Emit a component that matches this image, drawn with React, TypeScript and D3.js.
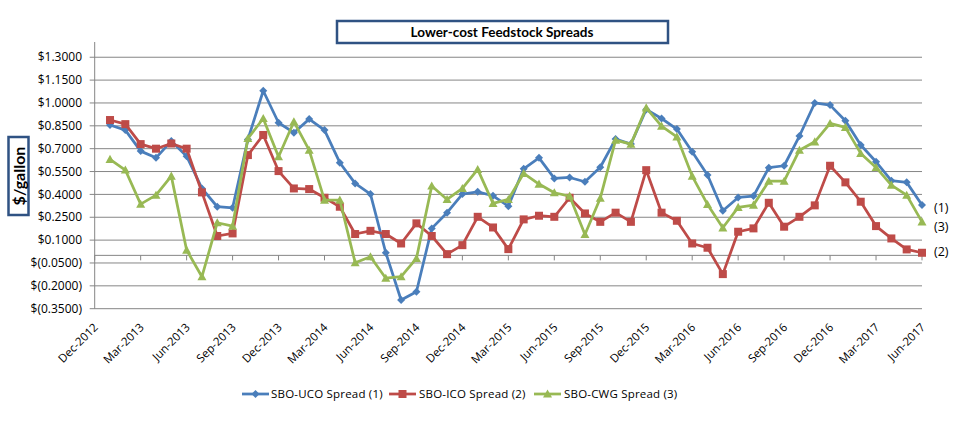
import React from "react";
import * as d3 from "d3";

// Months from Dec-2012 (index 0) to Jun-2017 (index 54); data starts Jan-2013 (index 1)
const tickLabels = [
  "Dec-2012", "Mar-2013", "Jun-2013", "Sep-2013", "Dec-2013", "Mar-2014", "Jun-2014",
  "Sep-2014", "Dec-2014", "Mar-2015", "Jun-2015", "Sep-2015", "Dec-2015", "Mar-2016",
  "Jun-2016", "Sep-2016", "Dec-2016", "Mar-2017", "Jun-2017",
];

const yTicks = [-0.35, -0.2, -0.05, 0.1, 0.25, 0.4, 0.55, 0.7, 0.85, 1.0, 1.15, 1.3];

const ucoSpread = [
  0.855, 0.822, 0.684, 0.64, 0.75, 0.651, 0.439, 0.319, 0.312, 0.76, 1.08, 0.87,
  0.805, 0.894, 0.822, 0.608, 0.472, 0.402, 0.017, -0.293, -0.239, 0.177, 0.28, 0.402,
  0.417, 0.391, 0.323, 0.568, 0.64, 0.505, 0.511, 0.483, 0.578, 0.763, 0.73, 0.957,
  0.898, 0.829, 0.68, 0.527, 0.293, 0.38, 0.389, 0.575, 0.588, 0.783, 1.0, 0.986,
  0.883, 0.724, 0.614, 0.49, 0.479, 0.33,
];

const icoSpread = [
  0.888, 0.861, 0.73, 0.7, 0.734, 0.7, 0.413, 0.127, 0.144, 0.658, 0.79, 0.553,
  0.439, 0.435, 0.378, 0.319, 0.14, 0.161, 0.14, 0.078, 0.21, 0.127, 0.008, 0.067,
  0.253, 0.183, 0.041, 0.236, 0.26, 0.253, 0.378, 0.275, 0.22, 0.28, 0.22, 0.559,
  0.28, 0.227, 0.078, 0.05, -0.123, 0.155, 0.177, 0.345, 0.188, 0.253, 0.328, 0.588,
  0.479, 0.352, 0.192, 0.111, 0.039, 0.017,
];

const cwgSpread = [
  0.63, 0.56, 0.336, 0.395, 0.52, 0.035, -0.14, 0.214, 0.192, 0.767, 0.898, 0.647,
  0.877, 0.69, 0.363, 0.363, -0.048, -0.009, -0.15, -0.14, -0.02, 0.455, 0.367, 0.439,
  0.564, 0.341, 0.367, 0.538, 0.468, 0.411, 0.389, 0.137, 0.375, 0.756, 0.73, 0.968,
  0.848, 0.778, 0.52, 0.334, 0.181, 0.315, 0.33, 0.487, 0.487, 0.69, 0.745, 0.866,
  0.84, 0.669, 0.577, 0.461, 0.395, 0.22,
];

const seriesNames = ["SBO-UCO Spread (1)", "SBO-ICO Spread (2)", "SBO-CWG Spread (3)"];
const endLabels = ["(1)", "(2)", "(3)"];

const FONT = "'Open Sans', sans-serif";
const TITLE_FONT = "Lato, 'Open Sans', sans-serif";
const COLORS = ["#4a7ebb", "#be4b48", "#98b954"];

const fmt = (v: number) => {
  const s = Math.abs(v).toFixed(4);
  return v < -1e-9 ? `$(${s})` : `$${s}`;
};

function Marker({ kind, x, y, color }: { kind: number; x: number; y: number; color: string }) {
  if (kind === 0) {
    const r = 4;
    return <path d={`M${x},${y - r}L${x + r},${y}L${x},${y + r}L${x - r},${y}Z`} fill={color} />;
  }
  if (kind === 1) {
    const r = 4;
    return <rect x={x - r} y={y - r} width={2 * r} height={2 * r} fill={color} />;
  }
  const r = 4.5;
  return <path d={`M${x},${y - r}L${x + r},${y + r * 0.8}L${x - r},${y + r * 0.8}Z`} fill={color} />;
}

export default function App() {
  const W = 970, H = 423;
  const x0 = 94.7, x1 = 922;
  const x = d3.scaleLinear().domain([0, 54]).range([x0, x1]);
  const y = d3.scaleLinear().domain([-0.35, 1.4]).range([308.7, 42]);

  const allSeries = [ucoSpread, icoSpread, cwgSpread];
  const line = d3
    .line<number>()
    .x((_, i) => x(i + 1))
    .y((d) => y(d));

  const tickIdx = tickLabels.map((_, i) => i * 3);

  const legendItems = [
    { lx: 242, tx: 271 },
    { lx: 389, tx: 419 },
    { lx: 534, tx: 564 },
  ];

  const endLabelY = [208, 252, 227];

  return (
    <svg
      width={W}
      height={H}
      style={{ position: "absolute", left: 0, top: 0, background: "#fff" }}
      fontFamily={FONT}
    >
      {/* gridlines */}
      {yTicks.map((t) => (
        <line key={t} x1={x0 - 5} x2={x1} y1={y(t)} y2={y(t)} stroke="#868686" strokeWidth={1} />
      ))}
      {/* y axis */}
      <line x1={x0} x2={x0} y1={y(1.4)} y2={y(-0.35)} stroke="#868686" strokeWidth={1} />
      {/* x axis at 0 */}
      <line x1={x0} x2={x1} y1={y(0)} y2={y(0)} stroke="#868686" strokeWidth={1} />
      {tickIdx.map((i) => (
        <line key={i} x1={x(i)} x2={x(i)} y1={y(0)} y2={y(0) + 5} stroke="#868686" strokeWidth={1} />
      ))}

      {/* y tick labels */}
      {yTicks.map((t) => (
        <text key={t} x={82} y={y(t)} dy="0.35em" textAnchor="end" fontSize={12} fill="#000">
          {fmt(t)}
        </text>
      ))}

      {/* x tick labels */}
      {tickIdx.map((i, k) => (
        <text
          key={i}
          transform={`translate(${x(i) + 4},${328}) rotate(-45)`}
          textAnchor="end"
          fontSize={11.5}
          fill="#000"
        >
          {tickLabels[k]}
        </text>
      ))}

      {/* series */}
      {allSeries.map((s, k) => (
        <g key={k}>
          <path d={line(s) || ""} fill="none" stroke={COLORS[k]} strokeWidth={2.75} strokeLinejoin="round" />
          {s.map((v, i) => (
            <Marker key={i} kind={k} x={x(i + 1)} y={y(v)} color={COLORS[k]} />
          ))}
        </g>
      ))}

      {/* end labels */}
      {endLabels.map((l, k) => (
        <text key={l} x={934} y={endLabelY[k]} dy="0.35em" fontSize={12.5} fill="#000">
          {l}
        </text>
      ))}

      {/* title */}
      <rect x={337} y={21} width={331} height={22} fill="#fff" stroke="#2f5283" strokeWidth={2.5} />
      <text
        x={502}
        y={32}
        dy="0.35em"
        textAnchor="middle"
        fontSize={13.5}
        fontWeight="bold"
        fontFamily={TITLE_FONT}
        fill="#000"
      >
        Lower-cost Feedstock Spreads
      </text>

      {/* y axis title */}
      <rect x={8.5} y={137} width={20} height={78} fill="#fff" stroke="#2f5283" strokeWidth={2.5} />
      <text
        transform={`translate(19,176) rotate(-90)`}
        textAnchor="middle"
        dy="0.35em"
        fontSize={16}
        fontWeight="bold"
        fontFamily={TITLE_FONT}
        fill="#000"
      >
        $/gallon
      </text>

      {/* legend */}
      {legendItems.map((it, k) => (
        <g key={k}>
          <line x1={it.lx} x2={it.lx + 27} y1={394} y2={394} stroke={COLORS[k]} strokeWidth={2.75} />
          <Marker kind={k} x={it.lx + 13.5} y={394} color={COLORS[k]} />
          <text x={it.tx} y={394} dy="0.35em" fontSize={11.5} letterSpacing={0.2} fill="#000">
            {seriesNames[k]}
          </text>
        </g>
      ))}
    </svg>
  );
}
